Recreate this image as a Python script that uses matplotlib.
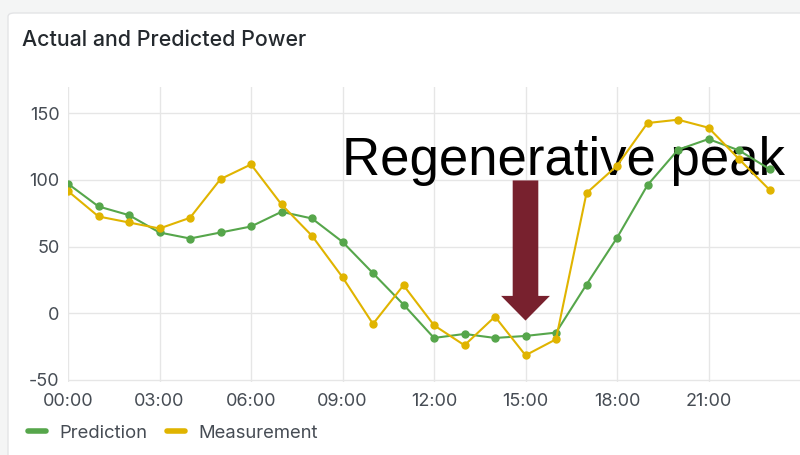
import matplotlib.pyplot as plt
from matplotlib.patches import FancyBboxPatch, FancyArrow
from matplotlib.lines import Line2D

plt.rcParams["axes.unicode_minus"] = False

hours = list(range(24))
tick_hours = [0, 3, 6, 9, 12, 15, 18, 21]
tick_labels = ["00:00", "03:00", "06:00", "09:00", "12:00", "15:00", "18:00", "21:00"]

prediction = [97, 80, 73.5, 60.5, 56, 60.5, 65, 76, 71, 53.5, 30, 6.5,
              -18.5, -15.5, -18.5, -17, -14.5, 21.5, 56.5, 96, 122.5, 130.5, 122, 108]
measurement = [91.5, 72.5, 68, 63.5, 71.5, 100.5, 111.5, 81.5, 58, 27, -8, 21,
               -9, -24, -2.5, -31.5, -19.5, 90, 110.5, 142.5, 145, 139, 115.5, 92.5]

green = "#56a64b"
yellow = "#e0b400"
maroon = "#78212e"

fig = plt.figure(figsize=(8, 4.55), dpi=100)
fig.patch.set_facecolor("#f4f5f5")

# panel
panel = FancyBboxPatch((8 / 800, -0.1), 1.0, 1.1 - 13 / 455,
                       boxstyle="round,pad=0,rounding_size=0.008",
                       transform=fig.transFigure, facecolor="white",
                       edgecolor="#e3e4e6", linewidth=1.0, zorder=-10)
fig.patches.append(panel)

fig.text(22 / 800, 1 - 40 / 455, "Actual and Predicted Power", family=["Inter", "DejaVu Sans"],
         fontsize=15.4, fontweight=500, color="#24292e", va="center", ha="left")

ax = fig.add_axes([68 / 800, 73 / 455, 732 / 800, 295 / 455])
ax.set_facecolor("none")

ax.plot(hours, prediction, color=green, lw=1.5, marker="o", ms=5, zorder=3)
ax.plot(hours, measurement, color=yellow, lw=1.5, marker="o", ms=5, zorder=3)

ax.set_xlim(0, 24)
ax.set_ylim(-51.5, 169.5)
ax.set_xticks(tick_hours)
ax.set_xticklabels(tick_labels)
ax.set_yticks([-50, 0, 50, 100, 150])
ax.grid(True, color="#e6e6e6", lw=1.0, zorder=0)
ax.set_axisbelow(True)
for s in ax.spines.values():
    s.set_visible(False)
ax.tick_params(length=0, labelsize=13, labelcolor="#464c54", pad=6)
ax.tick_params(axis="x", pad=8)
for lab in ax.get_xticklabels() + ax.get_yticklabels():
    lab.set_family(["Inter", "DejaVu Sans"])

# annotation
ax.text(8.97, 103.7, "Regenerative peak", fontsize=38, family=["Liberation Sans", "DejaVu Sans"],
        color="black", va="baseline", ha="left", zorder=2)
ax.add_patch(FancyArrow(15.0, 99.5, 0, -105, width=0.84, head_width=1.6, head_length=18.5,
                        length_includes_head=True, color=maroon, lw=0, zorder=2))

handles = [Line2D([], [], color=green, lw=4, solid_capstyle="round"),
           Line2D([], [], color=yellow, lw=4, solid_capstyle="round")]
fig.legend(handles, ["Prediction", "Measurement"], loc="center left",
           bbox_to_anchor=(11 / 800, 1 - 433 / 455), ncol=2, frameon=False,
           handlelength=1.0, handletextpad=0.7, columnspacing=1.07,
           prop={"family": ["Inter", "DejaVu Sans"], "size": 13.3}, labelcolor="#464c54")

fig.savefig("out.png", dpi=100, facecolor=fig.get_facecolor())
